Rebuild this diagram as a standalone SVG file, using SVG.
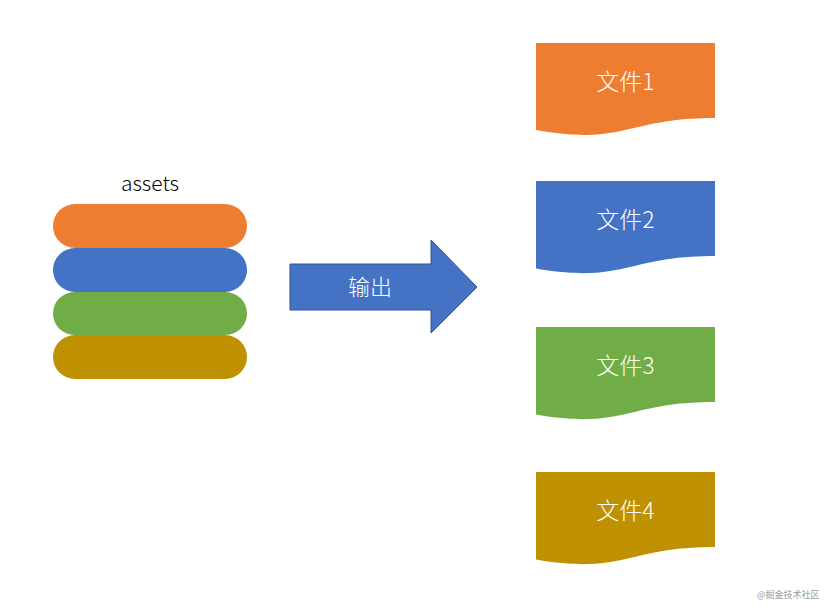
<svg xmlns="http://www.w3.org/2000/svg" width="829" height="611" viewBox="0 0 829 611">
  <style>
    .lbl { font-family: "Noto Sans CJK SC", "Noto Sans", sans-serif; fill: #ffffff; font-size: 22px; font-weight: 300; text-anchor: middle; }
    .file { font-size: 23px; }
    .title { font-family: "Noto Sans CJK SC", "Noto Sans", sans-serif; fill: #000000; font-size: 21px; font-weight: 300; text-anchor: middle; }
    .wm { font-family: "Noto Sans CJK SC", sans-serif; fill: #9a9a9a; font-size: 9px; }
  </style>
  <rect width="829" height="611" fill="#ffffff"/>
  <g id="assets">
    <text class="title" x="150" y="191">assets</text>
    <rect x="53" y="204" width="194" height="44" rx="22" fill="#ED7D31"/>
    <rect x="53" y="248" width="194" height="44" rx="22" fill="#4472C4"/>
    <rect x="53" y="292" width="194" height="43" rx="21.5" fill="#70AD47"/>
    <rect x="53" y="335" width="194" height="44" rx="22" fill="#BF9000"/>
  </g>
  <g id="connectors">
    <g id="arrow">
      <path d="M290,264 H431 V240 L477,287 L431,333 V310 H290 Z" fill="#4472C4" stroke="#2F528F" stroke-width="1"/>
      <text class="lbl" x="370" y="295">输出</text>
    </g>
  </g>
  <g id="file1">
    <path d="M536,43 H715 V118 C625.5,118 625.5,146 536,130 Z" fill="#ED7D31"/>
    <text class="lbl file" x="625.5" y="90">文件1</text>
  </g>
  <g id="file2">
    <path d="M536,181 H715 V256 C625.5,256 625.5,284 536,268.5 Z" fill="#4472C4"/>
    <text class="lbl file" x="625.5" y="228">文件2</text>
  </g>
  <g id="file3">
    <path d="M536,327 H715 V402 C625.5,402 625.5,430 536,414.5 Z" fill="#70AD47"/>
    <text class="lbl file" x="625.5" y="374">文件3</text>
  </g>
  <g id="file4">
    <path d="M536,472 H715 V547 C625.5,547 625.5,575 536,559.5 Z" fill="#BF9000"/>
    <text class="lbl file" x="625.5" y="519">文件4</text>
  </g>
  <text class="wm" x="757" y="598">@掘金技术社区</text>
</svg>
